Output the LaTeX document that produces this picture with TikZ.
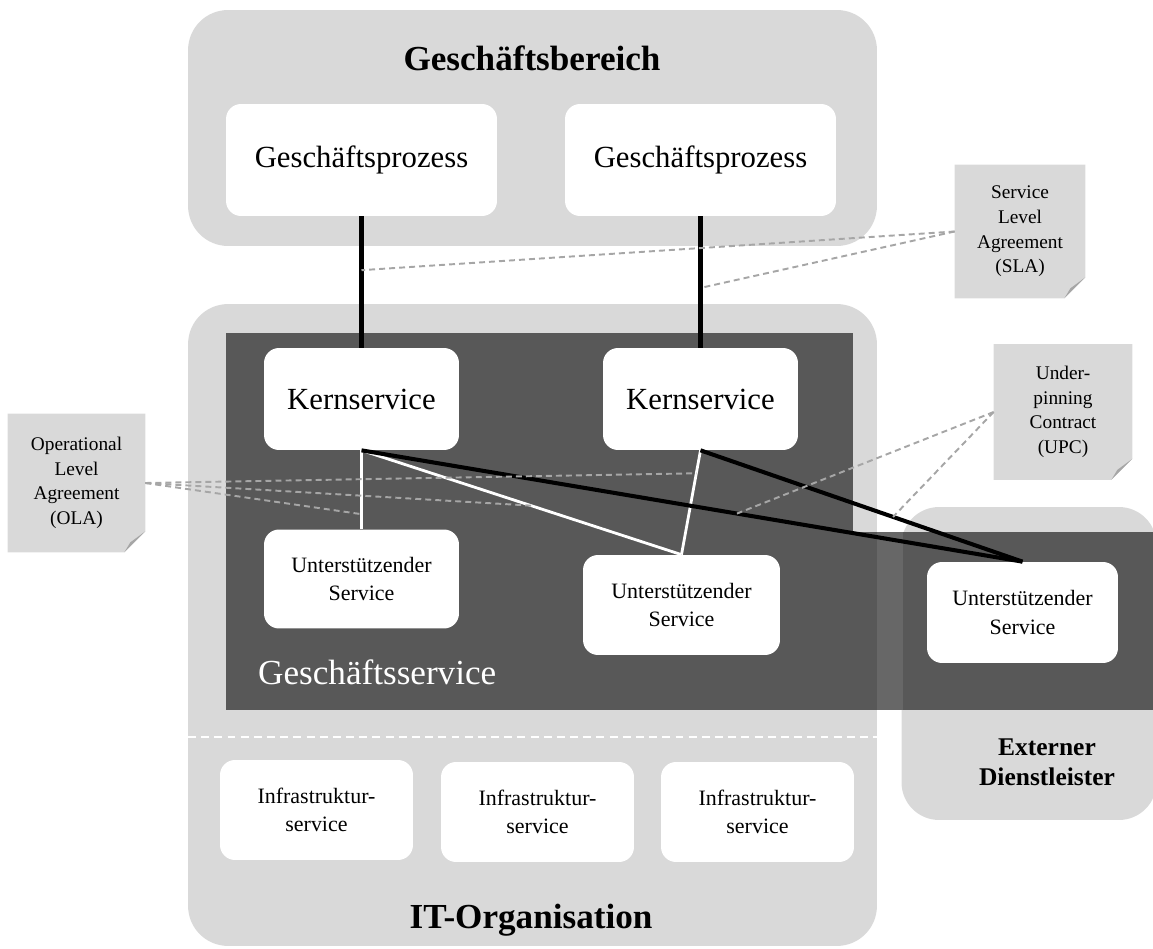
\documentclass[tikz,border=0pt]{standalone}
\usepackage{fontspec}
\setmainfont{Liberation Serif}
\usetikzlibrary{calc,backgrounds}
\definecolor{panel}{HTML}{D9D9D9}
\definecolor{band}{HTML}{585858}
\definecolor{bandgap}{HTML}{676767}
\definecolor{fold}{HTML}{A6A6A6}
\definecolor{dashgray}{HTML}{A6A6A6}

% note paper with a folded bottom-right corner, drawn behind a node
\newcommand\notepaper[1]{%
  \fill[panel] (#1.north west) -- (#1.north east) -- ([yshift=0.42cm]#1.south east)
    -- ([xshift=-0.42cm]#1.south east) -- (#1.south west) -- cycle;
  \fill[fold] ([yshift=0.42cm]#1.south east) -- ([xshift=-0.42cm]#1.south east)
    -- ([xshift=-0.3cm,yshift=0.2cm]#1.south east) -- cycle;}

\begin{document}
\begin{tikzpicture}[x=0.02cm,y=-0.02cm,
  panelbox/.style={fill=panel, rounded corners=0.8cm, inner sep=0pt},
  bandbox/.style={fill=band, inner sep=0pt},
  procbox/.style={fill=white, rounded corners=0.3cm, inner sep=0pt, align=center,
    minimum width=5.42cm, minimum height=2.24cm, font=\fontsize{17.5}{21}\selectfont},
  corebox/.style={fill=white, rounded corners=0.3cm, inner sep=0pt, align=center,
    minimum width=3.9cm, minimum height=2.04cm, font=\fontsize{17.5}{21}\selectfont},
  supbox/.style={fill=white, rounded corners=0.3cm, inner sep=0pt, align=center,
    minimum width=3.9cm, minimum height=1.98cm, font=\fontsize{12.5}{16}\selectfont},
  infrabox/.style={fill=white, rounded corners=0.3cm, inner sep=0pt, align=center,
    minimum width=3.86cm, minimum height=2.0cm, font=\fontsize{12.5}{16}\selectfont},
  notebox/.style={inner sep=0pt, align=center, font=\fontsize{11}{14}\selectfont},
  title/.style={font=\bfseries\fontsize{20}{24}\selectfont},
  blackline/.style={line width=2.3pt, black},
  whiteline/.style={line width=1.6pt, white},
  notelink/.style={dashgray, line width=1.1pt, dash pattern=on 3.4pt off 2.3pt},
]
\useasboundingbox (0,0) rectangle (1153,949);

% business area
\node[panelbox, minimum width=13.78cm, minimum height=4.72cm] (biz) at (532.5,128) {};
\node[title] (biztitle) at (532,58) {Geschäftsbereich};
\node[procbox] (gp1) at (361.5,160) {Geschäftsprozess};
\node[procbox] (gp2) at (700.5,160) {Geschäftsprozess};

% IT organisation
\node[panelbox, minimum width=13.78cm, minimum height=12.84cm] (ito) at (532.5,625) {};
\node[bandbox, minimum width=12.54cm, minimum height=7.54cm] (bs) at (539.5,521.5) {};
\node[anchor=west, white, font=\fontsize{20}{24}\selectfont] (bslabel) at (252,672) {Geschäftsservice};
\node[title] (itotitle) at (531,920) {IT-Organisation};

% external provider
\node[panelbox, rounded corners=0.75cm, minimum width=5.1cm, minimum height=6.26cm] (ext) at (1029,663.5) {};
\node[bandbox, minimum width=6.0cm, minimum height=3.56cm] (extband) at (1003,621) {};
\node[fill=bandgap, inner sep=0pt, minimum width=0.52cm, minimum height=3.56cm] (extgap) at (890,621) {};
\node[align=center, font=\bfseries\fontsize{14.5}{17}\selectfont] (exttitle) at (1047,762) {Externer\\Dienstleister};

% separator between business services and infrastructure
\coordinate (sepL) at (188,737);
\coordinate (sepR) at (877,737);
\draw[white, line width=1.1pt, dash pattern=on 4.5pt off 3pt] (sepL) -- (sepR);

% services
\node[corebox] (k1) at (361.5,399) {Kernservice};
\node[corebox] (k2) at (700.5,399) {Kernservice};
\node[supbox] (u1) at (361.5,579) {Unterstützender\\Service};
\node[supbox, minimum width=3.94cm, minimum height=2.0cm] (u2) at (681.5,605) {Unterstützender\\Service};
\node[supbox, minimum width=3.82cm, minimum height=2.02cm] (u3) at (1022.5,612.5) {Unterstützender\\Service};

\node[infrabox] (i1) at (316.5,810) {Infrastruktur-\\service};
\node[infrabox] (i2) at (537.5,812) {Infrastruktur-\\service};
\node[infrabox] (i3) at (757.5,812) {Infrastruktur-\\service};

% dependencies
\draw[blackline] (gp1.south) -- (k1.north);
\draw[blackline] (gp2.south) -- (k2.north);
\draw[whiteline] (k1.south) -- (u1.north);
\draw[whiteline] (k1.south) -- (u2.north);
\draw[whiteline] (k2.south) -- (u2.north);
\draw[blackline] (k1.south) -- (u3.north);
\draw[blackline] (k2.south) -- (u3.north);

% agreements
\node[notebox, minimum width=2.6cm, minimum height=2.66cm] (sla) at (1020,231.5) {Service\\Level\\Agreement\\(SLA)};
\node[notebox, minimum width=2.76cm, minimum height=2.7cm] (upc) at (1063,412) {Under-\\pinning\\Contract\\(UPC)};
\node[notebox, minimum width=2.74cm, minimum height=2.76cm] (ola) at (76.5,483) {Operational\\Level\\Agreement\\(OLA)};
\begin{scope}[on background layer]
  \notepaper{sla}
  \notepaper{upc}
  \notepaper{ola}
\end{scope}

\draw[notelink] (sla.west) -- ($(gp1.south)!0.41!(k1.north)$);
\draw[notelink] (sla.west) -- ($(gp2.south)!0.545!(k2.north)$);
\draw[notelink] (upc.west) -- ($(k1.south)!0.568!(u3.north)$);
\draw[notelink] (upc.west) -- ($(k2.south)!0.598!(u3.north)$);
\draw[notelink] (ola.east) -- ($(k1.south)!0.81!(u1.north)$);
\draw[notelink] (ola.east) -- ($(k1.south)!0.53!(u2.north)$);
\draw[notelink] (ola.east) -- ($(k2.south)!0.22!(u2.north)$);
\end{tikzpicture}
\end{document}
